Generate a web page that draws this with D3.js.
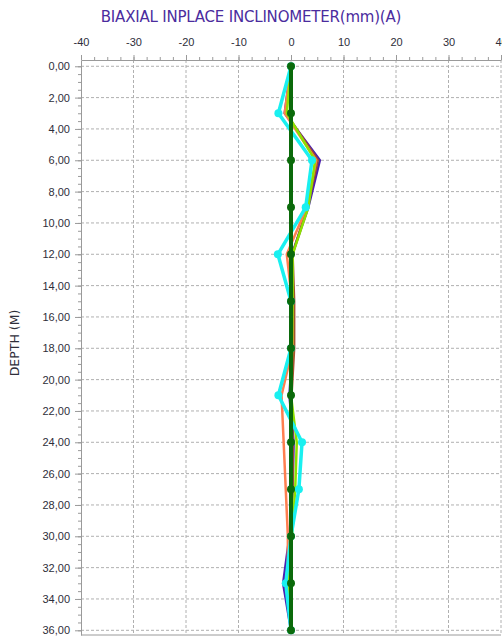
<!DOCTYPE html>
<html>
<head>
<meta charset="utf-8">
<script src="https://cdn.jsdelivr.net/npm/d3@7"></script>
<style>
  body { margin: 0; background: #fff; }
  svg { display: block; font-family: "DejaVu Sans", Verdana, sans-serif; }
  .grid line { stroke: #b0b0b0; stroke-dasharray: 3,2; }
  .axis path, .axis line { stroke: #9a9a9a; }
  .axis text { fill: #2e2e3a; font-size: 11px; }
</style>
</head>
<body>
<svg id="chart" width="502" height="639"></svg>
<script>
// depth readings (m)
const depths = [0, 3, 6, 9, 12, 15, 18, 21, 24, 27, 30, 33, 36];
// displacement per series (mm)
const seriesPurple = [0, -1.2, 5.5, 3.3, 0.2, 0.3, 0.3, -0.3, 0.5, 0.3, -0.3, -1.5, 0];
const seriesBrown  = [0, -1.0, 5.1, 3.1, 0.3, 0.6, 0.6, 0.1, 0.3, 0.3, 0.0, -0.8, 0];
const seriesOrange = [0, -1.2, 4.8, 3.0, -0.8, 0.2, 0.3, -1.8, -1.4, -1.0, -0.6, -0.6, 0];
const seriesLime   = [0, -0.8, 4.6, 3.3, 0.3, 0.3, 0.2, 0.0, 1.1, 0.8, 0.2, -0.5, 0];
const seriesCyan   = [0, -2.4, 4.0, 2.8, -2.5, 0, 0, -2.4, 2.1, 1.5, 0, -1.0, 0];
const seriesGreen  = [0, 0, 0, 0, 0, 0, 0, 0, 0, 0, 0, 0, 0];
const xTicks = [-40, -30, -20, -10, 0, 10, 20, 30, 40];
const yTicks = d3.range(0, 37, 2);

const series = [
  {name: "purple", values: seriesPurple, color: "#4a1fb0", width: 2.5, dots: false},
  {name: "brown",  values: seriesBrown,  color: "#a0522d", width: 2.5, dots: false},
  {name: "orange", values: seriesOrange, color: "#ff7f50", width: 2.5, dots: false},
  {name: "lime",   values: seriesLime,   color: "#8ee000", width: 2.5, dots: false},
  {name: "cyan",   values: seriesCyan,   color: "#19f0f0", width: 3.5, dots: true},
  {name: "green",  values: seriesGreen,  color: "#0b6a0b", width: 4,   dots: true}
];

const svg = d3.select("#chart");
const plotLeft = 81, plotRight = 501, plotTop = 60, plotBottom = 635;

const x = d3.scaleLinear().domain([-40, 40]).range([plotLeft, plotRight]);
const y = d3.scaleLinear().domain([-0.4, 36.3]).range([plotTop, plotBottom]);

// title
svg.append("text")
   .attr("x", 251).attr("y", 22)
   .attr("text-anchor", "middle")
   .attr("fill", "#4b2c9e")
   .style("font-size", "15px")
   .style("letter-spacing", "-0.2px")
   .text("BIAXIAL INPLACE INCLINOMETER(mm)(A)");

// y label
svg.append("text")
   .attr("transform", "translate(19,343) rotate(-90)")
   .attr("text-anchor", "middle")
   .attr("fill", "#2e2e3a")
   .style("font-size", "12.5px")
   .text("DEPTH (M)");

// grid
let grid = svg.append("g").attr("class", "grid");
grid.selectAll(".gx")
    .data(xTicks.slice(1))
    .enter().append("line")
    .attr("x1", d => x(d)).attr("x2", d => x(d))
    .attr("y1", plotTop).attr("y2", plotBottom);
grid.selectAll(".gy")
    .data(yTicks)
    .enter().append("line")
    .attr("x1", plotLeft).attr("x2", plotRight)
    .attr("y1", d => y(d)).attr("y2", d => y(d));

// top axis: minor ticks then labelled major ticks
svg.append("g")
   .attr("class", "axis")
   .attr("transform", "translate(0," + plotTop + ")")
   .call(d3.axisTop(x).tickValues(d3.range(-40, 40.1, 2.5)).tickSize(3).tickFormat(""))
   .call(g => g.select(".domain").remove());
svg.append("g")
   .attr("class", "axis")
   .attr("transform", "translate(0," + plotTop + ")")
   .call(d3.axisTop(x).tickValues(xTicks).tickSize(5).tickPadding(9).tickSizeOuter(0)
           .tickFormat(d => String(d)));

// left axis
let fmt = d => d3.format(".2f")(d).replace(".", ",");
svg.append("g")
   .attr("class", "axis")
   .attr("transform", "translate(" + plotLeft + ",0)")
   .call(d3.axisLeft(y).tickValues(d3.range(0, 36.1, 0.5)).tickSize(3).tickFormat(""))
   .call(g => g.select(".domain").remove());
svg.append("g")
   .attr("class", "axis")
   .attr("transform", "translate(" + plotLeft + ",0)")
   .call(d3.axisLeft(y).tickValues(yTicks).tickSize(6).tickPadding(5).tickSizeOuter(0).tickFormat(fmt));

// bottom frame line
svg.append("line")
   .attr("x1", plotLeft).attr("x2", plotRight)
   .attr("y1", plotBottom).attr("y2", plotBottom)
   .attr("stroke", "#9a9a9a");

// lines
let line = d3.line()
  .x(d => x(d.v))
  .y(d => y(d.depth));

series.forEach(s => {
  let pts = depths.map((dp, i) => ({depth: dp, v: s.values[i]}));
  svg.append("path")
     .datum(pts)
     .attr("fill", "none")
     .attr("stroke", s.color)
     .attr("stroke-width", s.width)
     .attr("stroke-linejoin", "round")
     .attr("d", line);
  if (s.dots) {
    svg.selectAll(".dot-" + s.name)
       .data(pts)
       .enter().append("circle")
       .attr("cx", d => x(d.v))
       .attr("cy", d => y(d.depth))
       .attr("r", 4)
       .attr("fill", s.color);
  }
});
</script>
</body>
</html>
